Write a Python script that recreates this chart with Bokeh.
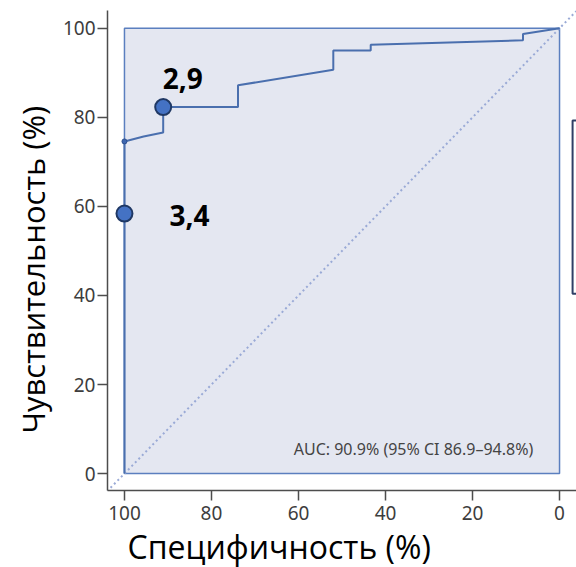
from bokeh.plotting import figure
from bokeh.models import Range1d, Label, FixedTicker, Title
from bokeh.core.properties import value
from bokeh.embed import file_html
from bokeh.resources import INLINE

# ROC curve (specificity %, sensitivity %)
roc_spec = [100, 100, 95.6, 91.1, 91.1, 73.9, 73.9, 52.0, 52.0, 43.4, 43.4, 8.4, 8.4, 0]
roc_sens = [0, 74.6, 75.7, 76.6, 82.3, 82.3, 87.2, 90.7, 95.0, 95.0, 96.3, 97.3, 98.7, 100]

# highlighted cut-off points
cut_spec = [91.1, 100]
cut_sens = [82.3, 58.4]
cut_labels = ["2,9", "3,4"]

small_spec = [100]
small_sens = [74.6]

# partially visible (cropped) box at the right edge
box_left = [-3.0]
box_right = [-12.0]
box_bottom = [40.4]
box_top = [79.3]

ticks = [0, 20, 40, 60, 80, 100]
auc_text = "AUC: 90.9% (95% CI 86.9\u201394.8%)"
x_title = "Специфичность (%)"
y_title = "Чувствительность (%)"

p = figure(width=576, height=567, output_backend="svg", toolbar_location=None,
           x_range=Range1d(103.9, -3.9), y_range=Range1d(-3.8, 104.0),
           min_border_left=107, min_border_right=0, min_border_top=10, min_border_bottom=77)
p.outline_line_color = None
p.grid.visible = False
p.background_fill_color = "white"

# shaded square
p.quad(left=[100], right=[0], bottom=[0], top=[100], fill_color="#e4e7f1",
       line_color="#5b7fbf", line_width=1.5)

# chance diagonal
p.line([104, -4], [-4, 104], line_color="#9aaad6", line_width=2, line_dash="2 3")

# ROC
p.line(roc_spec, roc_sens, line_color="#4a6fae", line_width=2)
p.scatter(small_spec, small_sens, size=5, fill_color="#3e66b0", line_color="#2b4f8f")
p.scatter(cut_spec, cut_sens, size=16, fill_color="#4472c4", line_color="#1f3864", line_width=2)

# cropped box at right edge
p.quad(left=box_left, right=box_right, bottom=box_bottom, top=box_top,
       fill_color=None, line_color="#2f3f66", line_width=2)

lab_x = [86.6, 85.05]
lab_y = [88.7, 57.9]
for lx, ly, t in zip(lab_x, lab_y, cut_labels):
    p.add_layout(Label(x=lx, y=ly, text=t, text_font="Open Sans", text_font_style="bold",
                       text_font_size="28px", text_color="black",
                       text_align="center", text_baseline="middle"))

p.add_layout(Label(x=61.1, y=5.6, text=auc_text, text_font="Noto Sans",
                   text_font_size="16px", text_color="#444444",
                   text_align="left", text_baseline="middle"))

# axes styling
for ax in (p.xaxis[0], p.yaxis[0]):
    ax.ticker = FixedTicker(ticks=ticks)
    ax.axis_line_color = "#4d4d4d"
    ax.axis_line_width = 1.5
    ax.major_tick_line_color = "#4d4d4d"
    ax.major_tick_line_width = 1.5
    ax.major_tick_in = 0
    ax.major_tick_out = 10
    ax.minor_tick_line_color = None
    ax.major_label_text_font = "Noto Sans"
    ax.major_label_text_font_size = "19px"
    ax.major_label_text_color = "#3d3d3d"
p.yaxis.major_label_standoff = 2
p.xaxis.major_label_standoff = 5

# axis titles (offset from frame start as in reference)
yt = Title(text=y_title, text_font="Open Sans", text_font_size="31px",
           text_font_style="normal", text_color="black", align="left",
           offset=57, standoff=12)
p.add_layout(yt, "left")
xt = Title(text=x_title, text_font="Open Sans", text_font_size="32px",
           text_font_style="normal", text_color="black", align="left",
           offset=20, standoff=0)
p.add_layout(xt, "below")

open("out.html", "w").write(file_html(p, INLINE))
